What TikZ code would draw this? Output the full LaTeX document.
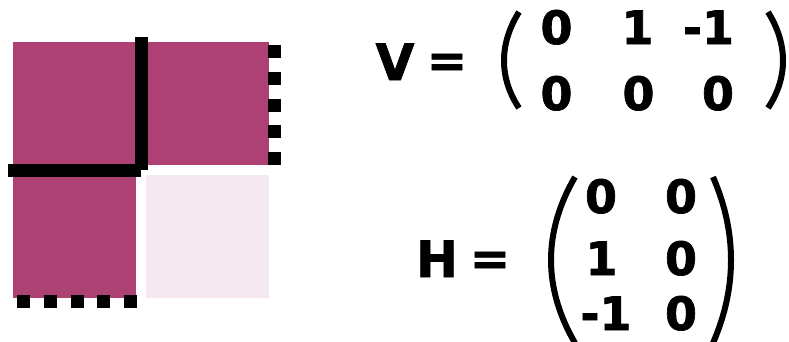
\documentclass[tikz,border=0pt]{standalone}
\usepackage{fontspec}
\setmainfont{DejaVu Sans}
\newfontface\heavyfont{DejaVu Sans Bold}[FakeBold=1.5]
\usetikzlibrary{calc}
\definecolor{cellfill}{RGB}{173,65,115}
\definecolor{cellempty}{RGB}{246,232,240}
\tikzset{
    cell/.style={rectangle, minimum width=123pt, minimum height=123pt, inner sep=0pt, anchor=north west},
    wall/.style={line width=13pt, black},
    openwall/.style={line width=13pt, black, dash pattern=on 13pt off 13.75pt},
    entry/.style={font=\fontsize{46}{46}\selectfont\heavyfont, inner sep=0pt, anchor=base},
    matname/.style={font=\fontsize{50}{50}\selectfont\heavyfont, inner sep=0pt, anchor=base},
    eqsign/.style={font=\fontsize{48}{48}\selectfont\heavyfont, inner sep=0pt, anchor=base},
    paren/.style={line width=6pt, black},
}
\begin{document}
\begin{tikzpicture}[x=1pt, y=-1pt]
\useasboundingbox (0,0) rectangle (789,341);

% Grid cells
\node[cell, fill=cellfill] (tl) at (13,42) {};
\node[cell, fill=cellfill] (tr) at (146,42) {};
\node[cell, fill=cellfill] (bl) at (13,175) {};
\node[cell, fill=cellempty] (br) at (146,175) {};

% Solid walls meeting at the centre of the grid
\coordinate (corner) at ($(tl.south east)!0.5!(br.north west)$);
\draw[wall] ([yshift=5pt]corner |- tl.north) -- (corner);
\draw[wall] (corner) -- ([xshift=-5pt]tl.west |- corner);

% Open (dashed) boundaries
\draw[openwall] ([xshift=5.5pt,yshift=-3pt]tr.north east) -- ([xshift=5.5pt]tr.south east);
\draw[openwall] ([xshift=4pt,yshift=-3.5pt]bl.south west) -- ([xshift=1pt,yshift=-3.5pt]bl.south east);

% V matrix
\node[matname] (vname) at (395,80) {V};
\node[eqsign] (veq) at (447,77) {=};
\draw[paren] (519,12) .. controls (499,44) and (499,78) .. (519,108);
\draw[paren] (768,12) .. controls (788,44) and (788,78) .. (768,108);
\node[entry] (v11) at (556.5,44) {0};
\node[entry] (v12) at (637.5,44) {1};
\node[entry] (v13) at (708.5,44) {-1};
\node[entry] (v21) at (556.5,110) {0};
\node[entry] (v22) at (638.5,110) {0};
\node[entry] (v23) at (718,110) {0};

% H matrix
\node[matname] (hname) at (437,277) {H};
\node[eqsign] (heq) at (490,275) {=};
\draw[paren] (575,177) .. controls (543,232) and (543,288) .. (575,343);
\draw[paren] (713,177) .. controls (737,232) and (737,288) .. (713,343);
\node[entry] (h11) at (601,213) {0};
\node[entry] (h12) at (681,213) {0};
\node[entry] (h21) at (601.5,275) {1};
\node[entry] (h22) at (681,275) {0};
\node[entry] (h31) at (606,330) {-1};
\node[entry] (h32) at (681,330) {0};

\end{tikzpicture}
\end{document}
